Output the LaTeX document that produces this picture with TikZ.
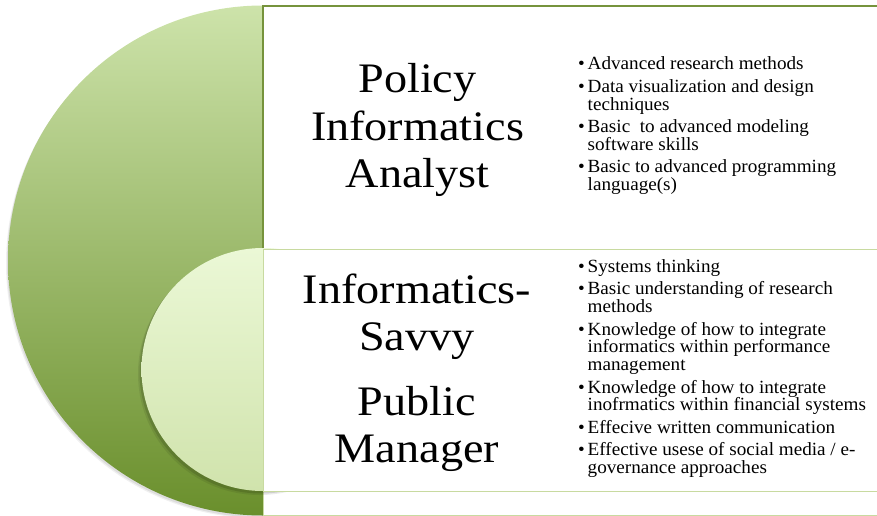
\documentclass[tikz,border=0pt]{standalone}
\usepackage{fontspec}
\setmainfont{Liberation Serif}[FakeStretch=1.1]
\newfontfamily\bulletfont{Liberation Serif}[FakeStretch=1.03]
\definecolor{borderdark}{RGB}{118,147,60}
\definecolor{borderlight}{RGB}{200,218,160}
\definecolor{bigtop}{RGB}{205,227,170}
\definecolor{bigmid}{RGB}{165,196,122}
\definecolor{bigbot}{RGB}{106,143,44}
\definecolor{smalltop}{RGB}{235,248,214}
\definecolor{smallbot}{RGB}{208,227,172}
\newcommand{\bl}[1]{\hbox{\makebox[9.5pt][l]{•}#1}}
\newcommand{\cl}[1]{\hbox{\hspace*{9.5pt}#1}}
\newcommand{\itemgap}{\vskip 4.6pt}
\tikzset{
  title/.style={anchor=base, inner sep=0pt, font=\fontsize{42}{47}\selectfont},
  bullets/.style={anchor=base west, inner sep=0pt, font=\bulletfont\fontsize{18.6}{17.8}\selectfont},
}
\begin{document}
\begin{tikzpicture}[x=1pt,y=-1pt]
\useasboundingbox (0,0) rectangle (877,516);
\clip (0,0) rectangle (877,516);
% large circle with soft shadow
\fill[black,opacity=0.08] (262,262.5) circle[radius=255pt];
\fill[black,opacity=0.06] (261,263.5) circle[radius=255pt];
\shade[top color=bigtop, middle color=bigmid, bottom color=bigbot] (263,260.5) circle[radius=255pt];
% outer box
\fill[white] (263,6) rectangle (880,515);
\draw[borderlight, line width=1pt] (263,491) -- (263,515) -- (880,515);
\draw[borderdark, line width=1.6pt] (263,249) -- (263,6) -- (880,6);
% small circle with soft shadow
\fill[black,opacity=0.12] (261,372) circle[radius=121.5pt];
\fill[black,opacity=0.08] (259.5,373.5) circle[radius=121.5pt];
\shade[top color=smalltop, bottom color=smallbot] (263,369.5) circle[radius=121.5pt];
% inner box
\fill[white] (263,249) rectangle (880,491);
\draw[borderlight, line width=1pt] (880,249) -- (263,249) -- (263,491) -- (880,491);
% titles
\node[title] (pa1) at (417.5,93) {Policy};
\node[title] (pa2) at (417.5,140) {Informatics};
\node[title] (pa3) at (417.5,187) {Analyst};
\node[title] (pm1) at (417,303) {Informatics-};
\node[title] (pm2) at (417,350.5) {Savvy};
\node[title] (pm3) at (417,415) {Public};
\node[title] (pm4) at (417,462.5) {Manager};
% bullet lists
\node[bullets] (palist) at (578,70) {\vtop{%
  \bl{Advanced research methods}\itemgap
  \bl{Data visualization and design}
  \cl{techniques}\itemgap
  \bl{Basic\ \ to advanced modeling}
  \cl{software skills}\itemgap
  \bl{Basic to advanced programming}
  \cl{language(s)}}};
\node[bullets] (pmlist) at (578,272.5) {\vtop{%
  \bl{Systems thinking}\itemgap
  \bl{Basic understanding of research}
  \cl{methods}\itemgap
  \bl{Knowledge of how to integrate}
  \cl{informatics within performance}
  \cl{management}\itemgap
  \bl{Knowledge of how to integrate}
  \cl{inofrmatics within financial systems}\itemgap
  \bl{Effecive written communication}\itemgap
  \bl{Effective usese of social media / e-}
  \cl{governance approaches}}};
\end{tikzpicture}
\end{document}
